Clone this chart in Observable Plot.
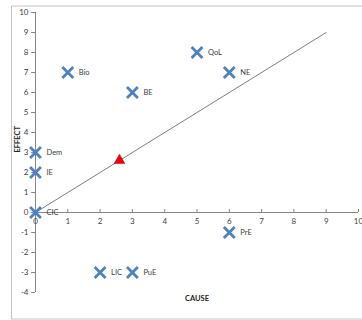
<!DOCTYPE html>
<html>
<head>
<meta charset="utf-8">
<script src="https://cdn.jsdelivr.net/npm/d3@7"></script>
<script src="https://cdn.jsdelivr.net/npm/@observablehq/plot@0.6"></script>
<style>
  html, body { margin: 0; padding: 0; background: #fff; }
  #chart svg { display: block; }
</style>
</head>
<body>
<div id="chart"></div>
<script>
// Cause–effect scores for each factor
const labels = ["Bio", "BE", "QoL", "NE", "Dem", "IE", "CIC", "LIC", "PuE", "PrE"];
const cause  = [1, 3, 5, 6, 0, 0, 0, 2, 3, 6];
const effect = [7, 6, 8, 7, 3, 2, 0, -3, -3, -1];

// Reference diagonal (cause = effect)
const diagX = [0, 9];
const diagY = [0, 9];

// Tick values
const xTicks = [0, 1, 2, 3, 4, 5, 6, 7, 8, 9, 10];
const yTicks = [-4, -3, -2, -1, 0, 1, 2, 3, 4, 5, 6, 7, 8, 9, 10];

const points = labels.map((label, i) => ({label, x: cause[i], y: effect[i]}));
const diag = diagX.map((x, i) => ({x, y: diagY[i]}));
const centroid = [{x: d3.mean(cause), y: d3.mean(effect)}];

const font = "Lato, 'Open Sans', sans-serif";
const axisColor = "#868686";
const textColor = "#404040";

const chart = Plot.plot({
  width: 362,
  height: 320,
  marginLeft: 35,
  marginRight: 4,
  marginTop: 12,
  marginBottom: 28,
  style: {fontFamily: font, fontSize: "8px", background: "#fff"},
  x: {type: "linear", domain: [0, 10], axis: null},
  y: {type: "linear", domain: [-4, 10], axis: null},
  marks: [
    // outer chart border
    Plot.frame({stroke: "#c4c4c4", insetLeft: -24, insetTop: -6.5, insetBottom: -26.5, insetRight: -20}),
    // axes through the origin
    Plot.ruleY([0], {stroke: axisColor, strokeWidth: 1}),
    Plot.ruleX([0], {stroke: axisColor, strokeWidth: 1}),
    Plot.ruleX(xTicks, {x: d => d, y1: 0, y2: 0.15, stroke: axisColor}),
    Plot.ruleY(yTicks, {y: d => d, x1: -0.12, x2: 0, stroke: axisColor}),
    Plot.text(xTicks, {x: d => d, y: 0, text: d => String(d), dy: 9, fill: textColor, fontSize: 8}),
    Plot.text(yTicks, {x: 0, y: d => d, text: d => String(d), dx: -7, textAnchor: "end", fill: textColor, fontSize: 8}),
    // diagonal line
    Plot.line(diag, {x: "x", y: "y", stroke: "#6e6e6e", strokeWidth: 0.9}),
    // factor markers
    Plot.dot(points, {x: "x", y: "y", symbol: "times", r: 5, stroke: "#4f81bd", strokeWidth: 2.8}),
    Plot.text(points, {x: "x", y: "y", text: "label", dx: 11, textAnchor: "start", fill: textColor, fontSize: 7.5}),
    // centroid
    Plot.dot(centroid, {x: "x", y: "y", symbol: "triangle", r: 4, fill: "#e30613", stroke: "#c00000", strokeWidth: 0.5}),
    // axis titles
    Plot.text(["CAUSE"], {frameAnchor: "bottom", dx: 0, dy: 8, text: d => d, fontWeight: "bold", fill: "#222", fontSize: 7.5}),
    Plot.text(["EFFECT"], {frameAnchor: "left", dx: -18, dy: 0, rotate: -90, text: d => d, fontWeight: "bold", fill: "#222", fontSize: 7.5})
  ]
});
document.getElementById("chart").append(chart);
</script>
</body>
</html>
